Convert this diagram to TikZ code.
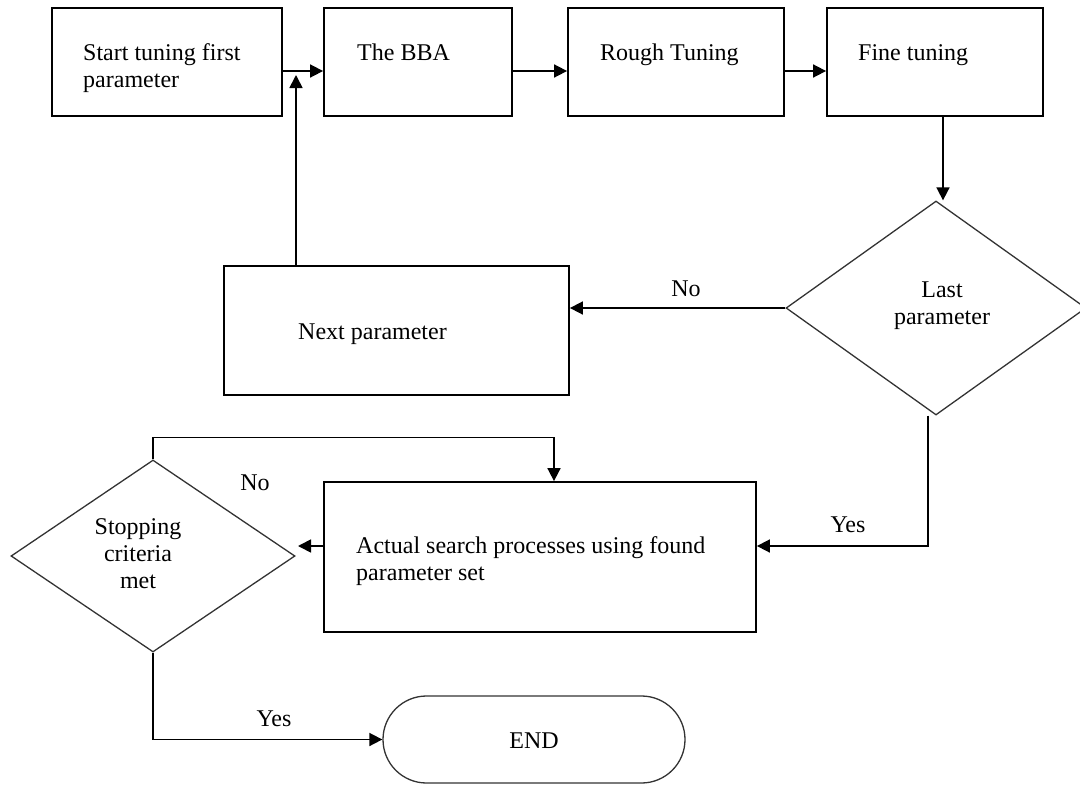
\documentclass[tikz,border=0pt]{standalone}
\usepackage{fontspec}
\setmainfont{Liberation Serif}
\usetikzlibrary{arrows.meta,shapes.geometric,shapes.misc}
\begin{document}
\begin{tikzpicture}[x=1pt,y=-1pt,
  box/.style={draw, line width=1.8pt, rectangle, inner sep=0pt},
  decision/.style={draw=black!80, line width=1.3pt, diamond, inner sep=0pt},
  term/.style={draw=black!80, line width=1.3pt, rounded rectangle, inner sep=0pt},
  txt/.style={font=\fontsize{24}{27}\selectfont, inner sep=0pt},
  arr/.style={line width=1.7pt, -{Triangle[length=13pt,width=13pt]}}
]
\useasboundingbox (0,0) rectangle (1080,785);

% top row of process steps
\node[box, minimum width=230, minimum height=108] (b1) at (167,62) {};
\node[box, minimum width=188, minimum height=108] (b2) at (418,62) {};
\node[box, minimum width=216, minimum height=108] (b3) at (676,62) {};
\node[box, minimum width=216, minimum height=108] (b4) at (935,62) {};

% multi-line labels are placed by the baseline of their last line
\node[txt, anchor=base west, align=left] (t1) at (83,87) {Start tuning first\\parameter};
\node[txt, anchor=base west] (t2) at (357,60) {The BBA};
\node[txt, anchor=base west] (t3) at (600,60) {Rough Tuning};
\node[txt, anchor=base west] (t4) at (858,60) {Fine tuning};

% parameter loop
\node[decision, minimum width=300, minimum height=214] (d1) at (936,308) {};
\node[txt, anchor=base, align=center] (td1) at (942,324) {Last\\parameter};
\node[box, minimum width=345, minimum height=129] (n) at (396.5,330.5) {};
\node[txt, anchor=base west] (tn) at (298,339) {Next parameter};

% search and stopping test
\node[box, minimum width=432, minimum height=150] (a) at (540,557) {};
\node[txt, anchor=base west, align=left] (ta) at (356,580) {Actual search processes using found\\parameter set};
\node[decision, minimum width=284, minimum height=192] (d2) at (153,556) {};
\node[txt, anchor=base, align=center] (td2) at (138,588) {Stopping\\criteria\\met};
\node[term, minimum width=302, minimum height=87] (e) at (534,739.5) {};
\node[txt, anchor=base] (te) at (534,748) {END};

% connectors
\coordinate (j1) at (296,75);
\coordinate (d2in) at (298,546);
\draw[arr] ([yshift=-9pt]b1.east) -- ([yshift=-9pt]b2.west);
\draw[arr] ([yshift=-9pt]b2.east) -- ([yshift=-9pt]b3.west);
\draw[arr] ([yshift=-9pt]b3.east) -- ([yshift=-9pt]b4.west);
\draw[arr] ([xshift=8pt]b4.south) -- ([xshift=8pt]b4.south |- d1.north);
\draw[arr] (d1.west) -- (d1.west -| n.east);
\draw[arr] (n.north -| j1) -- (j1);
\draw[arr] ([xshift=-8pt]d1.south) |- ([yshift=11pt]a.east);
\draw[arr] ([yshift=11pt]a.west) -- (d2in);
\draw[arr] (d2.north) -- ++(0,-22) -| ([xshift=14pt]a.north);
\draw[arr] (d2.south) |- (e.west);

% branch labels
\node[txt, anchor=base] (lno1) at (686,296) {No};
\node[txt, anchor=base] (lyes1) at (848,532) {Yes};
\node[txt, anchor=base] (lno2) at (255,490) {No};
\node[txt, anchor=base] (lyes2) at (274,726) {Yes};
\end{tikzpicture}
\end{document}
